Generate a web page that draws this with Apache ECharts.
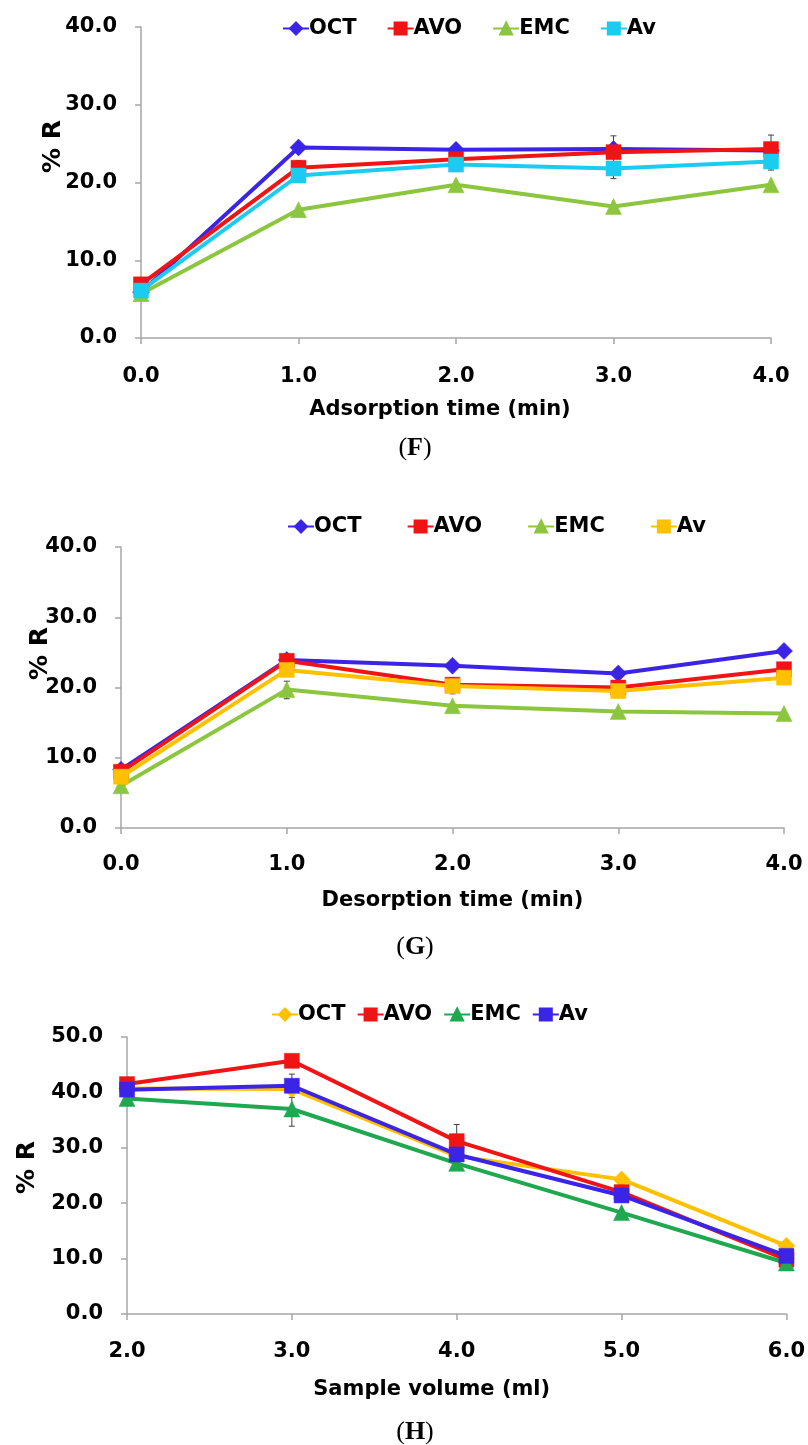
<!DOCTYPE html>
<html>
<head>
<meta charset="utf-8">
<script src="https://cdn.jsdelivr.net/npm/echarts@6/dist/echarts.min.js"></script>
<style>
html,body{margin:0;padding:0;background:#fff;}
#chart{width:808px;height:1445px;}
</style>
</head>
<body>
<div id="chart"></div>
<script>
// ---------- data ----------
const seriesNames = ['OCT', 'AVO', 'EMC', 'Av'];

// (F) Adsorption time
const xF = [0, 1, 2, 3, 4];
const octF = [5.9, 24.5, 24.2, 24.3, 24.1];
const avoF = [6.9, 21.9, 23.0, 23.9, 24.3];
const emcF = [5.7, 16.5, 19.7, 16.9, 19.7];
const avF  = [6.1, 20.9, 22.3, 21.8, 22.7];
const errF = [[1, 21.0, 22.8], [3, 22.1, 26.0], [3, 20.5, 23.1], [4, 22.6, 26.1], [4, 21.6, 23.8]];

// (G) Desorption time
const xG = [0, 1, 2, 3, 4];
const octG = [8.3, 23.9, 23.1, 22.0, 25.2];
const avoG = [8.0, 23.8, 20.4, 20.0, 22.6];
const emcG = [6.0, 19.7, 17.4, 16.6, 16.3];
const avG  = [7.3, 22.5, 20.2, 19.5, 21.4];
const errG = [[1, 18.4, 20.9], [2, 19.1, 21.4]];

// (H) Sample volume
const xH = [2, 3, 4, 5, 6];
const octH = [40.7, 40.6, 28.5, 24.3, 12.3];
const avoH = [41.5, 45.7, 31.2, 22.0, 9.8];
const emcH = [38.9, 37.0, 27.2, 18.3, 9.2];
const avH  = [40.5, 41.2, 28.8, 21.4, 10.5];
const errH = [[3, 33.9, 40.1], [3, 39.1, 43.3], [4, 28.2, 34.2]];

const xTitles = ['Adsorption time (min)', 'Desorption time (min)', 'Sample volume (ml)'];
const yTitle = '% R';
const panelLabels = ['F', 'G', 'H'];

// ---------- styling ----------
const FONT = 'DejaVu Sans';
const colorsF = ['#3B24E6', '#F01414', '#8CC63F', '#1CCBF0'];
const colorsG = ['#3B24E6', '#F01414', '#8CC63F', '#FFC000'];
const colorsH = ['#FFC000', '#F01414', '#1FA84F', '#3B24E6'];
const symbols = ['diamond', 'rect', 'triangle', 'rect'];
const symSizes = [17, 15, 16, 15];

function pairs(xs, ys) { return xs.map((x, i) => [x, ys[i]]); }

function lineSeries(panel, idx, xs, ys, color) {
  const k = panelLabels.indexOf(panel);
  return {
    type: 'line',
    name: panel + '-' + seriesNames[idx],
    xAxisIndex: k,
    yAxisIndex: k,
    data: pairs(xs, ys),
    symbol: symbols[idx],
    symbolSize: symSizes[idx],
    showAllSymbol: true,
    lineStyle: { color: color, width: 4 },
    itemStyle: { color: color, borderColor: color, borderWidth: 0.5 },
    emphasis: { disabled: true },
    z: 3 + idx
  };
}

function errRender(params, api) {
  const x = api.value(0), lo = api.value(1), hi = api.value(2);
  const pl = api.coord([x, lo]), ph = api.coord([x, hi]);
  const st = { stroke: '#404040', lineWidth: 1 };
  return {
    type: 'group',
    children: [
      { type: 'line', shape: { x1: pl[0], y1: pl[1], x2: ph[0], y2: ph[1] }, style: st },
      { type: 'line', shape: { x1: ph[0] - 3, y1: ph[1], x2: ph[0] + 3, y2: ph[1] }, style: st },
      { type: 'line', shape: { x1: pl[0] - 3, y1: pl[1], x2: pl[0] + 3, y2: pl[1] }, style: st }
    ]
  };
}

function errSeries(k, data) {
  return {
    type: 'custom', xAxisIndex: k, yAxisIndex: k,
    renderItem: errRender, data: data,
    encode: { x: 0, y: [1, 2] }, z: 2, silent: true
  };
}

const axisGray = '#A6A6A6';
const labelStyle = { color: '#000', fontFamily: FONT, fontWeight: 'bold', fontSize: 21 };

function xAxis(k, min, max, namePadRight, nameGap, labelMargin) {
  return {
    type: 'value', gridIndex: k, min: min, max: max, interval: 1,
    name: xTitles[k], nameLocation: 'middle', nameGap: nameGap, nameMoveOverlap: false,
    nameTextStyle: Object.assign({}, labelStyle, { padding: [0, namePadRight, 0, 0] }),
    axisLine: { show: true, onZero: false, lineStyle: { color: axisGray, width: 1.5 } },
    axisTick: { show: true, length: 6, inside: false, lineStyle: { color: axisGray, width: 1.5 } },
    axisLabel: Object.assign({}, labelStyle, { margin: labelMargin, formatter: v => v.toFixed(1) }),
    splitLine: { show: false }
  };
}

function yAxis(k, max, nameGap, nameShiftUp) {
  return {
    type: 'value', gridIndex: k, min: 0, max: max, interval: 10,
    name: yTitle, nameLocation: 'middle', nameGap: nameGap, nameMoveOverlap: false,
    nameTextStyle: Object.assign({}, labelStyle, { fontSize: 25, padding: [0, 0, 0, nameShiftUp * 2] }),
    axisLine: { show: true, lineStyle: { color: axisGray, width: 1.5 } },
    axisTick: { show: true, length: 6, inside: false, lineStyle: { color: axisGray, width: 1.5 } },
    axisLabel: Object.assign({}, labelStyle, { margin: 24, formatter: v => v.toFixed(1) }),
    splitLine: { show: false }
  };
}

function legend(panel, left, top, gap) {
  return {
    data: seriesNames.map(n => panel + '-' + n),
    left: left, top: top, itemGap: gap,
    itemWidth: 26, itemHeight: 15,
    formatter: name => name.split('-')[1],
    textStyle: Object.assign({}, labelStyle, { padding: [0, 0, 0, -5] }),
    selectedMode: false
  };
}

function panelTitle(letter, y) {
  return {
    text: '(' + '{b|' + letter + '})',
    left: 410, top: y, textAlign: 'center',
    textStyle: {
      fontFamily: 'Liberation Serif', fontSize: 26, fontWeight: 'normal', color: '#000',
      rich: { b: { fontFamily: 'Liberation Serif', fontSize: 26, fontWeight: 'bold', color: '#000' } }
    }
  };
}

const option = {
  backgroundColor: '#fff',
  animation: false,
  title: [panelTitle('F', 430), panelTitle('G', 929), panelTitle('H', 1414)],
  legend: [legend('F', 277, 13, 30), legend('G', 282, 511, 45), legend('H', 266, 999, 11)],
  grid: [
    { left: 141, right: 37, top: 27, height: 311 },
    { left: 121, right: 24, top: 547, height: 281 },
    { left: 127, right: 17, top: 1037, height: 277 }
  ],
  xAxis: [xAxis(0, 0, 4, 32, 61, 28), xAxis(1, 0, 4, 0, 62, 26), xAxis(2, 2, 6, 50, 65, 27)],
  yAxis: [yAxis(0, 40, 75, 36), yAxis(1, 40, 68, 34), yAxis(2, 50, 87, 8)],
  series: [
    errSeries(0, errF), errSeries(1, errG), errSeries(2, errH),
    lineSeries('F', 0, xF, octF, colorsF[0]),
    lineSeries('F', 1, xF, avoF, colorsF[1]),
    lineSeries('F', 2, xF, emcF, colorsF[2]),
    lineSeries('F', 3, xF, avF,  colorsF[3]),
    lineSeries('G', 0, xG, octG, colorsG[0]),
    lineSeries('G', 1, xG, avoG, colorsG[1]),
    lineSeries('G', 2, xG, emcG, colorsG[2]),
    lineSeries('G', 3, xG, avG,  colorsG[3]),
    lineSeries('H', 0, xH, octH, colorsH[0]),
    lineSeries('H', 1, xH, avoH, colorsH[1]),
    lineSeries('H', 2, xH, emcH, colorsH[2]),
    lineSeries('H', 3, xH, avH,  colorsH[3])
  ]
};

const chart = echarts.init(document.getElementById('chart'), null, { renderer: 'canvas' });
chart.setOption(option);
</script>
</body>
</html>
